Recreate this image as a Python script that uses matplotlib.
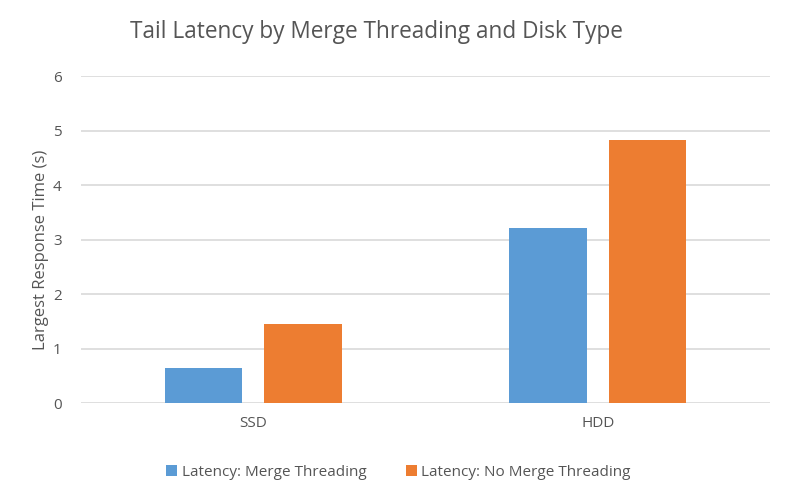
import numpy as np
import matplotlib.pyplot as plt

categories = ['SSD', 'HDD']
merge_threading = [0.65, 3.21]
no_merge_threading = [1.46, 4.83]
series_labels = ['Latency: Merge Threading', 'Latency: No Merge Threading']

plt.rcParams['font.family'] = ['Open Sans', 'DejaVu Sans']
text_color = '#555555'

fig = plt.figure(figsize=(7.94, 4.98), dpi=100)
ax = fig.add_axes([0.102, 0.19, 0.868, 0.657])

x = np.arange(len(categories))
w = 0.225
off = 0.1445
ax.bar(x - off, merge_threading, w, color='#5B9BD5', label=series_labels[0], zorder=3)
ax.bar(x + off, no_merge_threading, w, color='#ED7D31', label=series_labels[1], zorder=3)

ax.set_xlim(-0.5, 1.5)
ax.set_ylim(0, 6)
ax.set_yticks(range(0, 7))
ax.set_xticks(x)
ax.set_xticklabels(categories)
ax.yaxis.grid(True, color='#D9D9D9', linewidth=1.2, zorder=0)
for s in ax.spines.values():
    s.set_visible(False)
ax.tick_params(axis='both', length=0, colors=text_color, labelsize=11)
ax.tick_params(axis='y', pad=14)
ax.tick_params(axis='x', pad=9)
ax.set_ylabel('Largest Response Time (s)', color=text_color, fontsize=12)
ax.yaxis.set_label_coords(-0.047, 0.47)

fig.text(0.474, 0.935, 'Tail Latency by Merge Threading and Disk Type',
         ha='center', va='center', fontsize=16.3, color=text_color)

leg = fig.legend(loc='center', bbox_to_anchor=(0.502, 0.052), ncol=2, frameon=False,
                 fontsize=11, handlelength=0.7, handleheight=0.7, handletextpad=0.3,
                 columnspacing=2.6)
for t in leg.get_texts():
    t.set_color(text_color)

plt.savefig('out.png', dpi=100)
